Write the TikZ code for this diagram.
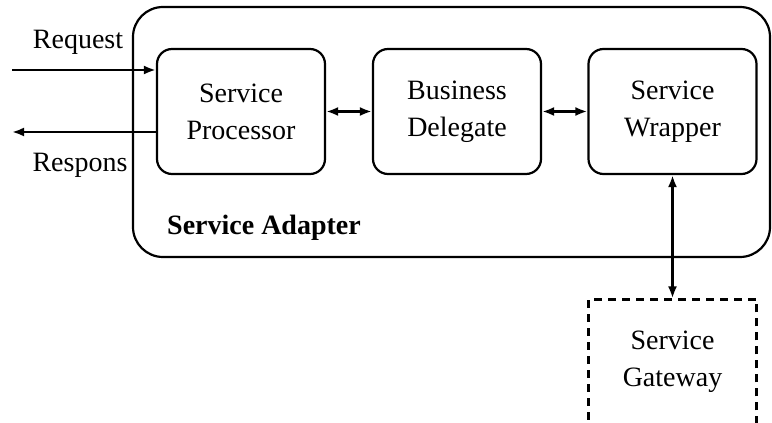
\documentclass[tikz,border=0pt]{standalone}
\usepackage{fontspec}
\setmainfont{Liberation Serif}
\usetikzlibrary{arrows.meta}
\usetikzlibrary{positioning}

\begin{document}
\begin{tikzpicture}[x=1pt,y=1pt,
  >={Latex[length=12pt,width=9pt]},
  textS/.style={font=\fontsize{28}{37}\selectfont},
  blocK/.style={draw,line width=2.2pt,rounded corners=15pt,%
    minimum width=168pt,minimum height=125pt,align=center,textS},
  linK/.style={line width=2.6pt}]
\useasboundingbox (0,0) rectangle (772,423);
%\draw (0,0) rectangle (772,423);
\draw[line width=2.2pt,rounded corners=30pt] (133,416) rectangle (770,166);
\node[blocK] (p) at (241,311.5) {Service\\Processor};
\node[blocK] (d) at (457,311.5) {Business\\Delegate};
\node[blocK] (w) at (672.5,311.5) {Service\\Wrapper};
\node[blocK,rounded corners=0pt,dash pattern=on 8pt off 6pt] (g) at (672.5,61)
  {Service\\Gateway};
\coordinate (rq) at (12,353);
\coordinate (rs) at (12,291);
\draw[linK,->] (rq) -- (rq -| p.west);
\draw[linK,->] (rs -| p.west) -- (rs);
\draw[linK,<->] (p) -- (d);
\draw[linK,<->] (d) -- (w);
\draw[linK,<->] (w) -- (g);
\node[textS] (rqL) at (78,381) {Request};
\node[textS] (rsL) at (80,258) {Respons};
\node[textS,font=\fontsize{28}{37}\selectfont\bfseries] (sa) at (264,195) {Service Adapter};
\end{tikzpicture}
\end{document}
